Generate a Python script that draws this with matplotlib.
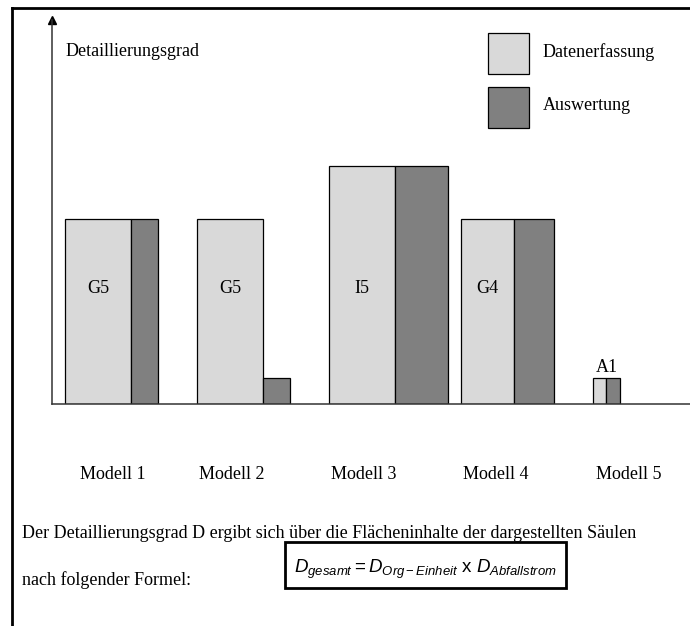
import matplotlib
matplotlib.use("Agg")
import matplotlib.pyplot as plt
from matplotlib.patches import Rectangle
from matplotlib.lines import Line2D

plt.rcParams['font.family'] = ['Liberation Serif', 'DejaVu Serif']
plt.rcParams['mathtext.fontset'] = 'custom'
plt.rcParams['mathtext.it'] = 'Liberation Sans:italic'
plt.rcParams['mathtext.rm'] = 'Liberation Sans'

# data (arbitrary units: width = Org-Einheit level, height = detail level)
modelle = ["Modell 1", "Modell 2", "Modell 3", "Modell 4", "Modell 5"]
bar_left = [1, 11, 21, 31, 41]
erfassung_breite = [5, 5, 5, 4, 1]
erfassung_hoehe = [7, 7, 9, 7, 1]
auswertung_breite = [2, 2, 4, 3, 1]
auswertung_hoehe = [7, 1, 9, 7, 1]
bar_labels = ["G5", "G5", "I5", "G4", "A1"]
label_x = [2.1, 11.15, 21.15, 31.1, 41.2]

hell = "#d9d9d9"
dunkel = "#808080"
W, H = 690, 626

fig = plt.figure(figsize=(6.9, 6.26), dpi=100)
ax = fig.add_axes([52 / W, (H - 404) / H, (W - 52) / W, (404 - 20) / H])
ax.set_xlim(0, (W - 52) / 13.2)
ax.set_ylim(0, 384 / 26.5)

ax.bar(bar_left, erfassung_hoehe, width=erfassung_breite, align='edge',
       color=hell, edgecolor='black', linewidth=0.9, zorder=2)
aus_left = [l + w for l, w in zip(bar_left, erfassung_breite)]
ax.bar(aus_left, auswertung_hoehe, width=auswertung_breite, align='edge',
       color=dunkel, edgecolor='black', linewidth=0.9, zorder=2)

# labels in / above bars
for i, lab in enumerate(bar_labels):
    if erfassung_hoehe[i] > 2:
        ax.text(bar_left[i] + erfassung_breite[i] / 2, 4.35, lab,
                ha='center', va='center', fontsize=13)
    else:
        ax.text(bar_left[i] + (erfassung_breite[i] + auswertung_breite[i]) / 2,
                erfassung_hoehe[i] + 0.05, lab, ha='center', va='bottom', fontsize=13)

for x, m in zip(label_x, modelle):
    ax.text(x, -2.65, m, ha='left', va='center', fontsize=13, clip_on=False)

for s in ['top', 'right']:
    ax.spines[s].set_visible(False)
ax.spines['left'].set_color('#333333')
ax.spines['bottom'].set_color('#333333')
ax.spines['left'].set_linewidth(1.1)
ax.spines['bottom'].set_linewidth(1.1)
ax.plot(0, 1, marker='^', color='black', markersize=6,
        transform=ax.transAxes, clip_on=False)
ax.set_xticks([])
ax.set_yticks([])

def px(x, y):
    return x / W, 1 - y / H

fig.text(*px(66, 52), "Detaillierungsgrad", fontsize=13, va='center', ha='left')

# legend
for y0, c, t in [(33, hell, "Datenerfassung"), (87, dunkel, "Auswertung")]:
    fx, fy = px(488, y0 + 41)
    fig.add_artist(Rectangle((fx, fy), 41 / W, 41 / H, facecolor=c,
                             edgecolor='black', linewidth=0.9,
                             transform=fig.transFigure))
    fig.text(*px(543, y0 + 19), t, fontsize=13, va='center', ha='left')

# explanation text
fig.text(*px(22, 534), "Der Detaillierungsgrad D ergibt sich über die Flächeninhalte der dargestellten Säulen",
         fontsize=13, va='center', ha='left')
fig.text(*px(22, 580), "nach folgender Formel:", fontsize=13, va='center', ha='left')

# formula box
bx, by = px(285, 588)
fig.add_artist(Rectangle((bx, by), 281 / W, 46 / H, facecolor='white',
                         edgecolor='black', linewidth=2,
                         transform=fig.transFigure))
fig.text(*px(425, 569), r"$D_{gesamt} = D_{Org-Einheit}\ \mathrm{x}\ D_{Abfallstrom}$",
         fontsize=13.5, va='center', ha='center')

# frame
fig.add_artist(Line2D([12 / W, 12 / W], [0, 1 - 8 / H], color='black',
                      linewidth=2, transform=fig.transFigure))
fig.add_artist(Line2D([12 / W, 1], [1 - 8 / H, 1 - 8 / H], color='black',
                      linewidth=2, transform=fig.transFigure))

fig.savefig("out.png", dpi=100)
